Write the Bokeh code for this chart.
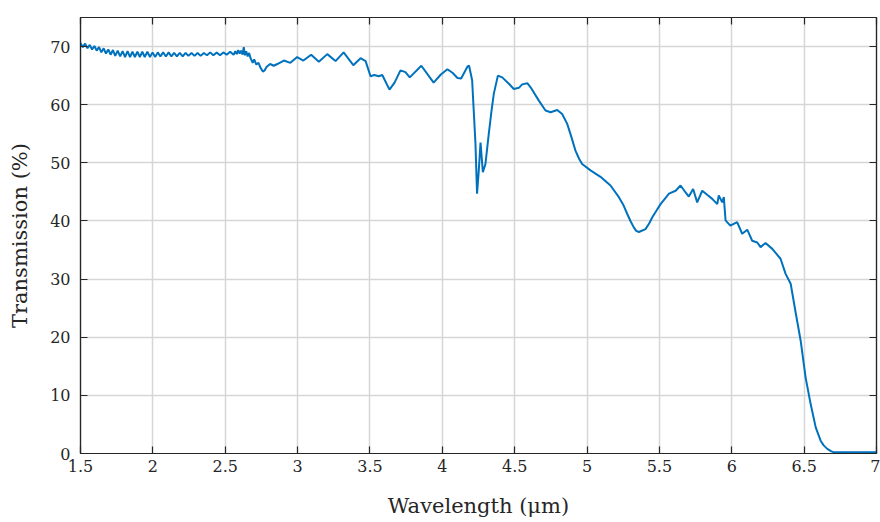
from bokeh.plotting import figure
from bokeh.models import Range1d, FixedTicker, LinearAxis
from bokeh.embed import file_html
from bokeh.resources import INLINE

# Wavelength (um) and transmission (%)
wavelength = [
    1.500, 1.516, 1.532, 1.548, 1.564, 1.580, 1.596, 1.612, 1.628, 1.644,
    1.660, 1.676, 1.692, 1.708, 1.724, 1.740, 1.757, 1.774, 1.791, 1.808,
    1.825, 1.842, 1.859, 1.876, 1.893, 1.910, 1.927, 1.944, 1.962, 1.980,
    1.998, 2.016, 2.034, 2.052, 2.071, 2.090, 2.109, 2.128, 2.147, 2.166,
    2.186, 2.206, 2.226, 2.246, 2.267, 2.288, 2.309, 2.330, 2.352, 2.374,
    2.396, 2.418, 2.441, 2.464, 2.487, 2.510, 2.534, 2.558,
    2.570, 2.580, 2.590, 2.600, 2.610, 2.620, 2.628, 2.636, 2.645, 2.655,
    2.665, 2.675, 2.690, 2.700, 2.715, 2.730, 2.745, 2.760, 2.772, 2.785,
    2.810, 2.835, 2.860, 2.905, 2.950, 2.997, 3.040, 3.094, 3.147, 3.205, 3.262,
    3.318, 3.385, 3.435, 3.470, 3.504, 3.530, 3.560, 3.585, 3.635, 3.670,
    3.711, 3.745, 3.775, 3.855, 3.940, 3.990, 4.035, 4.070, 4.105, 4.130,
    4.175, 4.185, 4.206, 4.229, 4.240, 4.252, 4.264, 4.280, 4.298, 4.321,
    4.340, 4.356, 4.384, 4.414, 4.460, 4.494, 4.529, 4.552, 4.587, 4.610, 4.667,
    4.713, 4.748, 4.794, 4.828, 4.863, 4.890, 4.920, 4.945, 4.966, 5.024, 5.093, 5.162,
    5.220, 5.250, 5.278, 5.300, 5.323, 5.340, 5.358, 5.404, 5.430, 5.450, 5.480,
    5.508, 5.540, 5.566, 5.612, 5.646,
    5.681, 5.703, 5.733, 5.761, 5.796, 5.830, 5.865, 5.900, 5.910, 5.934,
    5.945, 5.957, 5.990, 6.037, 6.072, 6.107, 6.141, 6.176, 6.199, 6.233,
    6.280, 6.337, 6.372, 6.407, 6.441, 6.476, 6.510, 6.545, 6.580, 6.614,
    6.635, 6.660, 6.685, 6.706, 6.850, 7.000,
]
transmission = [
    70.6, 69.9, 70.5, 69.7, 70.3, 69.5, 70.1, 69.3, 69.9, 69.0,
    69.7, 68.8, 69.5, 68.6, 69.4, 68.4, 69.3, 68.3, 69.2, 68.2,
    69.2, 68.2, 69.1, 68.2, 69.1, 68.2, 69.1, 68.2, 69.1, 68.2,
    69.0, 68.2, 69.0, 68.3, 69.0, 68.3, 69.0, 68.3, 68.9, 68.3,
    68.9, 68.3, 68.9, 68.4, 68.9, 68.4, 68.9, 68.4, 68.9, 68.5,
    69.0, 68.5, 69.0, 68.5, 69.0, 68.6, 69.1, 68.6,
    69.2, 68.7, 69.4, 68.8, 69.3, 68.6, 69.9, 68.5, 69.2, 68.3,
    68.9, 68.0, 67.2, 67.8, 66.9, 67.2, 66.3, 65.7, 65.9, 66.5,
    67.0, 66.7, 67.0, 67.6, 67.2, 68.2, 67.6, 68.6, 67.4, 68.7, 67.5,
    69.0, 66.8, 68.0, 67.5, 64.9, 65.1, 64.9, 65.1, 62.6, 63.8,
    65.9, 65.6, 64.7, 66.7, 63.8, 65.2, 66.1, 65.5, 64.6, 64.5,
    66.6, 66.7, 64.2, 53.3, 44.7, 48.7, 53.5, 48.4, 49.8, 55.0,
    59.0, 61.9, 65.0, 64.7, 63.6, 62.7, 62.9, 63.5, 63.7, 63.0, 60.7,
    59.0, 58.7, 59.1, 58.4, 56.7, 54.6, 52.1, 50.7, 49.8, 48.7, 47.6, 46.1,
    44.1, 42.8, 41.2, 40.0, 38.9, 38.3, 38.1, 38.6, 39.6, 40.6, 41.8,
    42.9, 43.9, 44.7, 45.2, 46.1,
    44.9, 44.2, 45.5, 43.2, 45.2, 44.5, 43.8, 42.9, 44.4, 43.2,
    44.1, 40.1, 39.2, 39.8, 37.8, 38.5, 36.6, 36.3, 35.5, 36.2,
    35.2, 33.5, 30.9, 29.2, 24.3, 19.4, 13.1, 8.5, 4.5, 2.2,
    1.4, 0.8, 0.4, 0.2, 0.2, 0.2,
]

x_ticks = [1.5, 2, 2.5, 3, 3.5, 4, 4.5, 5, 5.5, 6, 6.5, 7]
x_tick_labels = ["1.5", "2", "2.5", "3", "3.5", "4", "4.5", "5", "5.5", "6", "6.5", "7"]
y_ticks = [0, 10, 20, 30, 40, 50, 60, 70]
y_tick_labels = ["0", "10", "20", "30", "40", "50", "60", "70"]

AX = "#262626"
FONT = "DejaVu Serif"

p = figure(width=880, height=522, output_backend="svg", toolbar_location=None,
           x_range=Range1d(1.5, 7), y_range=Range1d(0, 75),
           min_border_left=80, min_border_right=4, min_border_top=17,
           min_border_bottom=69)
p.background_fill_color = "white"
p.border_fill_color = "white"
p.outline_line_color = AX
p.outline_line_width = 1.2

p.line(wavelength, transmission, line_color="#0072BD", line_width=2)

for ax, ticks, labels in ((p.xaxis[0], x_ticks, x_tick_labels), (p.yaxis[0], y_ticks, y_tick_labels)):
    ax.ticker = FixedTicker(ticks=ticks)
    ax.major_label_overrides = {t: l for t, l in zip(ticks, labels)}
    ax.minor_tick_line_color = None
    ax.major_tick_in = 7
    ax.major_tick_out = 0
    ax.axis_line_color = AX
    ax.axis_line_width = 1.2
    ax.major_tick_line_color = AX
    ax.major_tick_line_width = 1.2
    ax.major_label_text_font = FONT
    ax.major_label_text_font_size = "16px"
    ax.major_label_text_color = AX
    ax.axis_label_text_font = FONT
    ax.axis_label_text_font_size = "21px"
    ax.axis_label_text_font_style = "normal"
    ax.axis_label_text_color = AX

p.xaxis[0].axis_label = "Wavelength (\u03bcm)"
p.yaxis[0].axis_label = "Transmission (%)"
p.xaxis[0].major_label_standoff = 6
p.xaxis[0].axis_label_standoff = 19
p.yaxis[0].major_label_standoff = 10
p.yaxis[0].axis_label_standoff = 15

for side in ("right", "above"):
    a = LinearAxis()
    a.ticker = FixedTicker(ticks=y_ticks if side == "right" else x_ticks)
    a.major_label_text_font_size = "0px"
    a.major_label_text_color = None
    a.minor_tick_line_color = None
    a.major_tick_in = 7
    a.major_tick_out = 0
    a.axis_line_color = AX
    a.axis_line_width = 1.2
    a.major_tick_line_color = AX
    a.major_tick_line_width = 1.2
    a.major_label_standoff = 0
    p.add_layout(a, side)

p.xgrid.ticker = FixedTicker(ticks=x_ticks)
p.ygrid.ticker = FixedTicker(ticks=y_ticks)
for g in (p.xgrid[0], p.ygrid[0]):
    g.grid_line_color = "#d6d6d6"
    g.grid_line_width = 1.5

open("out.html", "w").write(file_html(p, INLINE))
